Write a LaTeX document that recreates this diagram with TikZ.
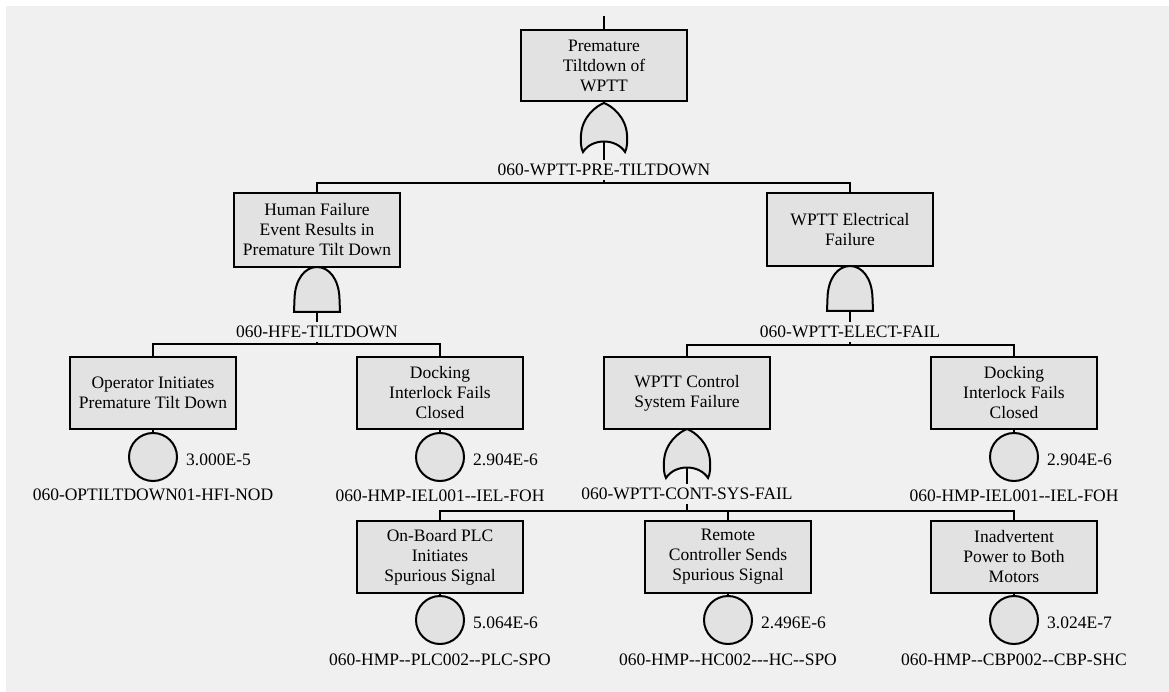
\documentclass[tikz,border=0pt]{standalone}
\usepackage{fontspec}
\setmainfont{Liberation Serif}
\definecolor{bg}{HTML}{F0F0F0}
\definecolor{boxgray}{HTML}{E2E2E2}
\newcommand{\ORgate}[3]{%
  \coordinate (#1-in) at (#2,#3);
  \coordinate (#1-out) at (#2,#3+38);
  \draw[gatesh, shift={(#2,#3)}] (0,0) .. controls (-8,3) and (-22,14) .. (-23,32)
     .. controls (-23.5,40) and (-23,45) .. (-21,49)
     .. controls (-12,35) and (12,35) .. (21,49)
     .. controls (23,45) and (23.5,40) .. (23,32)
     .. controls (22,14) and (8,3) .. (0,0) -- cycle;}
\newcommand{\ANDgate}[3]{%
  \coordinate (#1-in) at (#2,#3);
  \coordinate (#1-out) at (#2,#3+45);
  \draw[gatesh, shift={(#2,#3)}] (-23,45) -- (-22.5,32)
     .. controls (-22,12) and (-12,0) .. (0,0)
     .. controls (12,0) and (22,12) .. (22.5,32) -- (23,45) -- cycle;}
\begin{document}
\begin{tikzpicture}[x=1pt,y=-1pt,
  every node/.style={font=\fontsize{17.5}{20}\selectfont},
  evbox/.style={draw, line width=2pt, fill=boxgray, minimum width=166, minimum height=72, align=center, inner sep=1pt},
  conn/.style={line width=1.3pt},
  gatesh/.style={draw, line width=2pt, fill=boxgray},
  basic/.style={circle, draw, line width=2pt, fill=boxgray, minimum size=48, inner sep=0pt},
  glabel/.style={inner sep=4pt},
  prob/.style={anchor=west, inner sep=0pt},
  elabel/.style={inner sep=1pt}]
\useasboundingbox (0,0) rectangle (1169,692);
\fill[white] (0,0) rectangle (1169,692);
\fill[bg] (6,6) rectangle (1169,692);

% top event
\coordinate (topin) at (604,16);
\node[evbox, minimum height=71] (top) at (604,65.5) {Premature\\Tiltdown of\\WPTT};
\draw[conn] (topin) -- (top.north);
\ORgate{g1}{604}{103}
\draw[conn] (top.south) -- (g1-in);
\node[glabel] (g1l) at (604,170) {060-WPTT-PRE-TILTDOWN};
\coordinate (b1) at (604,183);
\draw[conn] (g1-out) -- (g1l.north);
\draw[conn] (g1l.south) -- (b1);

% level 2
\node[evbox, minimum height=74] (hfe) at (317,230) {Human Failure\\Event Results in\\Premature Tilt Down};
\node[evbox, minimum height=73] (elec) at (850,229.5) {WPTT Electrical\\Failure};
\draw[conn] (b1) -| (hfe.north);
\draw[conn] (b1) -| (elec.north);

\ANDgate{g2}{317}{267}
\draw[conn] (hfe.south) -- (g2-in);
\node[glabel] (g2l) at (317,332) {060-HFE-TILTDOWN};
\coordinate (b2) at (317,344);
\draw[conn] (g2-out) -- (g2l.north);
\draw[conn] (g2l.south) -- (b2);

\ANDgate{g3}{850}{266}
\draw[conn] (elec.south) -- (g3-in);
\node[glabel] (g3l) at (850,332) {060-WPTT-ELECT-FAIL};
\coordinate (b3) at (850,345);
\draw[conn] (g3-out) -- (g3l.north);
\draw[conn] (g3l.south) -- (b3);

% level 3
\node[evbox] (op) at (153,393) {Operator Initiates\\Premature Tilt Down};
\node[evbox] (dock1) at (440,393) {Docking\\Interlock Fails\\Closed};
\node[evbox] (ctrl) at (687,393) {WPTT Control\\System Failure};
\node[evbox] (dock2) at (1014,393) {Docking\\Interlock Fails\\Closed};
\draw[conn] (b2) -| (op.north);
\draw[conn] (b2) -| (dock1.north);
\draw[conn] (b3) -| (ctrl.north);
\draw[conn] (b3) -| (dock2.north);

\node[basic] (e1) at (153,457) {};
\draw[conn] (op.south) -- (e1.north);
\node[prob] (p1) at (186,460) {3.000E-5};
\node[elabel] (l1) at (153,495) {060-OPTILTDOWN01-HFI-NOD};

\node[basic] (e2) at (440,457) {};
\draw[conn] (dock1.south) -- (e2.north);
\node[prob] (p2) at (473,460) {2.904E-6};
\node[elabel] (l2) at (440,496) {060-HMP-IEL001-\kern0pt-IEL-FOH};

\node[basic] (e4) at (1014,457) {};
\draw[conn] (dock2.south) -- (e4.north);
\node[prob] (p4) at (1047,460) {2.904E-6};
\node[elabel] (l4) at (1014,496) {060-HMP-IEL001-\kern0pt-IEL-FOH};

\ORgate{g4}{687}{429}
\draw[conn] (ctrl.south) -- (g4-in);
\node[glabel] (g4l) at (687,494) {060-WPTT-CONT-SYS-FAIL};
\coordinate (b4) at (687,511);
\draw[conn] (g4-out) -- (g4l.north);
\draw[conn] (g4l.south) -- (b4);

% level 4
\node[evbox] (plc) at (440,557) {On-Board PLC\\Initiates\\Spurious Signal};
\node[evbox] (rem) at (728,557) {Remote\\Controller Sends\\Spurious Signal};
\node[evbox] (pow) at (1014,557) {Inadvertent\\Power to Both\\Motors};
\draw[conn] (b4) -| (plc.north);
\draw[conn] (b4) -| (rem.north);
\draw[conn] (b4) -| (pow.north);

\node[basic] (e5) at (440,620) {};
\draw[conn] (plc.south) -- (e5.north);
\node[prob] (p5) at (473,623) {5.064E-6};
\node[elabel] (l5) at (440,660) {060-HMP-\kern0pt-PLC002-\kern0pt-PLC-SPO};

\node[basic] (e6) at (728,620) {};
\draw[conn] (rem.south) -- (e6.north);
\node[prob] (p6) at (761,623) {2.496E-6};
\node[elabel] (l6) at (728,660) {060-HMP-\kern0pt-HC002-\kern0pt-\kern0pt-HC-\kern0pt-SPO};

\node[basic] (e7) at (1014,620) {};
\draw[conn] (pow.south) -- (e7.north);
\node[prob] (p7) at (1047,623) {3.024E-7};
\node[elabel] (l7) at (1014,660) {060-HMP-\kern0pt-CBP002-\kern0pt-CBP-SHC};
\end{tikzpicture}
\end{document}
